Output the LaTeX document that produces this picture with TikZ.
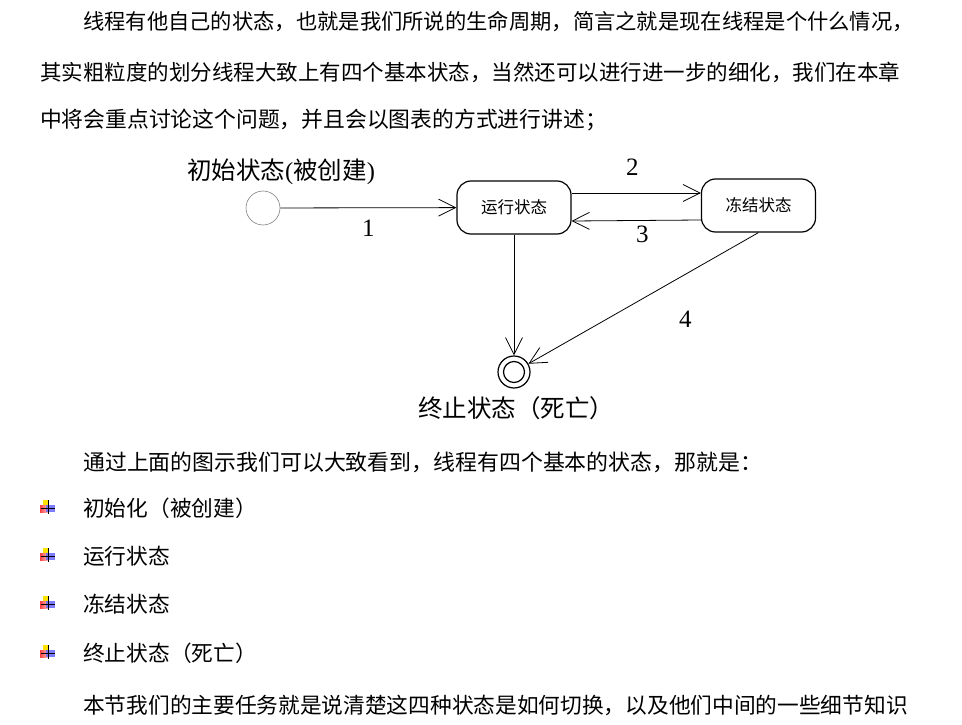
\documentclass[tikz,border=0pt]{standalone}
\usepackage{fontspec}
\setmainfont{Liberation Serif}
\newfontfamily\cjk{Noto Sans CJK SC}
\usetikzlibrary{arrows.meta}

\begin{document}
\begin{tikzpicture}[x=1pt, y=-1pt,
  para/.style={anchor=west, inner sep=0pt, font=\cjk\fontsize{#1}{24}\selectfont},
  para/.default=21.7,
  state/.style={draw, line width=1.2pt, rounded corners=14pt,
    minimum width=114pt, minimum height=53pt,
    font=\cjk\fontsize{16.5}{19}\selectfont},
  caption/.style={anchor=west, inner sep=0pt, font=\fontsize{24.5}{28}\selectfont},
  num/.style={inner sep=0pt, font=\fontsize{25}{28}\selectfont},
  trans/.style={-{Straight Barb[length=17pt,width=17pt]}, line width=0.8pt},
  bulletmark/.pic={
    \fill[yellow!85!orange] (-5,-8) rectangle (0,-3);
    \shade[left color=red!75, right color=red!25] (-8,-3) rectangle (0,4);
    \fill[blue!60!white, opacity=.85] (-2,-3) rectangle (7,4);
    \draw[line width=1pt] (0,-8) -- (0,6);
    \draw[line width=1pt] (-7,0) -- (7,0);
  }
]
  \useasboundingbox[fill=white] (0,0) rectangle (962,725);

  \node[para=21.3] (p1) at (83,22)
    {线程有他自己的状态，也就是我们所说的生命周期，简言之就是现在线程是个什么情况，};
  \node[para=21.5] (p2) at (40,72)
    {其实粗粒度的划分线程大致上有四个基本状态，当然还可以进行进一步的细化，我们在本章};
  \node[para=21.8] (p3) at (40,120)
    {中将会重点讨论这个问题，并且会以图表的方式进行讲述；};

  \node[caption] (initlabel) at (187,172) {{\cjk 初始状态}({\cjk 被创建})};
  \node[draw=gray, circle, minimum size=34pt, inner sep=0pt, line width=0.6pt]
    (init) at (263,208) {};
  \node[state] (run) at (514,207.5) {运行状态};
  \node[state] (freeze) at (758.5,205.5) {冻结状态};
  \node[draw, circle, minimum size=32pt, inner sep=0pt, line width=1.2pt]
    (final) at (514,372) {};
  \draw[line width=1.2pt] (final) circle (10.5pt);
  \node[caption] (endlabel) at (418,408) {\cjk 终止状态（死亡）};

  \draw[trans] (init) -- node[num, yshift=-20pt] {1} (run);
  \draw[trans] ([yshift=14.5pt]run.east) -- node[num, xshift=-4pt, yshift=26pt] {2}
    ([yshift=12.5pt]freeze.west);
  \draw[trans] ([yshift=-14.5pt]freeze.west) -- node[num, xshift=6pt, yshift=-13.5pt] {3}
    ([yshift=-13.5pt]run.east);
  \draw[trans] (run) -- (final);
  \draw[trans] (freeze.south) -- node[num, xshift=42pt, yshift=-21pt] {4} (final);

  \node[para=21.9] (p4) at (83,462)
    {通过上面的图示我们可以大致看到，线程有四个基本的状态，那就是：};

  \foreach \y/\txt in {508/初始化（被创建）, 556/运行状态, 604/冻结状态, 653/终止状态（死亡）} {
    \pic at (48,\y) {bulletmark};
    \node[para] at (83,\y) {\txt};
  }

  \node[para=21.7] (p5) at (83,705)
    {本节我们的主要任务就是说清楚这四种状态是如何切换，以及他们中间的一些细节知识};
\end{tikzpicture}
\end{document}
